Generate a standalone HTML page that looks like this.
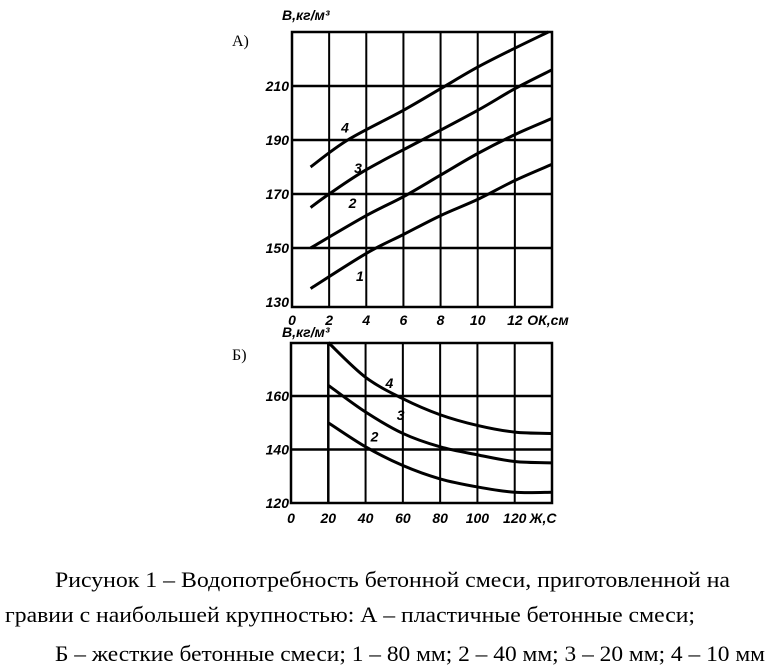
<!DOCTYPE html>
<html><head><meta charset="utf-8"><style>
html,body{margin:0;padding:0;background:#fff;width:772px;height:671px;overflow:hidden}
svg{display:block}
.t{font-family:"Liberation Sans Narrow","Liberation Sans",sans-serif;font-style:italic;font-weight:bold;font-size:14px;fill:#000}
.cap{font-family:"Liberation Serif",serif;font-size:22px;fill:#000}
</style></head><body>
<svg id="s" width="772" height="671" viewBox="0 0 772 671">
<text class="cap" x="55" y="587" textLength="675" lengthAdjust="spacingAndGlyphs">Рисунок 1 – Водопотребность бетонной смеси, приготовленной на</text>
<text class="cap" x="5" y="622" textLength="690" lengthAdjust="spacingAndGlyphs">гравии с наибольшей крупностью: А – пластичные бетонные смеси;</text>
<text class="cap" x="55" y="661" textLength="710" lengthAdjust="spacingAndGlyphs">Б – жесткие бетонные смеси; 1 – 80 мм; 2 – 40 мм; 3 – 20 мм; 4 – 10 мм</text>
</svg>
<script>
// Chart A data
const aXTicks=[0,2,4,6,8,10,12];
const aYTicks=[130,150,170,190,210];
const aX1=[1,4,6,8,10,12,14], aY1=[135,148,155,162,168,175,181];
const aX2=[1,4,6,8,10,12,14], aY2=[150,162,169,177,185,192,198];
const aX3=[1,2,4,7,10,12,14], aY3=[165,170,179,190,201,209,216];
const aX4=[1,3,6,8,10,12,13.8], aY4=[180,190,201,209,217,224,230];
const aLabels=["1","2","3","4"];
// Chart B data
const bXTicks=[0,20,40,60,80,100,120];
const bYTicks=[120,140,160];
const bX=[20,40,60,80,100,120,140];
const bY2=[150,141,134,129,126,124,124];
const bY3=[164,154,146,141,138,135.5,135];
const bY4=[180,167,159,153,149,146.5,146];

const svg=document.getElementById('s');
const NS='http://www.w3.org/2000/svg';
function mk(tag,attrs,txt){const e=document.createElementNS(NS,tag);for(const k in attrs)e.setAttribute(k,attrs[k]);if(txt!==undefined)e.textContent=txt;svg.appendChild(e);return e;}
function smooth(pts){let d='M'+pts[0][0]+','+pts[0][1];for(let i=0;i<pts.length-1;i++){const p0=pts[i-1]||pts[i],p1=pts[i],p2=pts[i+1],p3=pts[i+2]||p2;const c1=[p1[0]+(p2[0]-p0[0])/6,p1[1]+(p2[1]-p0[1])/6],c2=[p2[0]-(p3[0]-p1[0])/6,p2[1]-(p3[1]-p1[1])/6];d+=' C'+c1+' '+c2+' '+p2;}return d;}

const ax=v=>292+v*(260/14), ay=v=>302-(v-130)*(54/20);
function chartA(){
  for(const t of aXTicks.concat([14])){if(t>0){const l=mk('line',{x1:ax(t),x2:ax(t),y1:32,y2:307,stroke:'#000','stroke-width':2});}}
  for(const t of aYTicks){if(t>130){const l=mk('line',{x1:292,x2:552,y1:ay(t),y2:ay(t),stroke:'#000','stroke-width':2.5});}}
  const f=mk('rect',{x:292,y:32,width:260,height:275,fill:'none',stroke:'#000','stroke-width':2.5});
  
  for(const t of aXTicks){const e=mk('text',{class:'t',x:ax(t),y:325,'text-anchor':'middle'},String(t));}
  for(const t of aYTicks){const e=mk('text',{class:'t',x:289,y:ay(t)+5,'text-anchor':'end'},String(t));}
  const xt=mk('text',{class:'t',x:548,y:325,'text-anchor':'middle'},'ОК,см');
  const yt=mk('text',{class:'t',x:282,y:20},'В,кг/м³');
  const p=mk('text',{x:232,y:46,'font-family':'Liberation Serif, serif','font-size':16},'А)');
  const series=[[aX1,aY1],[aX2,aY2],[aX3,aY3],[aX4,aY4]];
  const labPos=[[4.2,137],[3.8,164],[4.1,177],[3.4,192]];
  series.forEach((s,i)=>{const pts=s[0].map((x,j)=>[ax(x),ay(s[1][j])]);const c=mk('path',{d:smooth(pts),fill:'none',stroke:'#000','stroke-width':3});
    const lb=mk('text',{class:'t',x:ax(labPos[i][0])-14,y:ay(labPos[i][1])-2,'font-size':16},aLabels[i]);});
}
const bx=v=>291+v*(261/140), by=v=>503-(v-120)*(53.5/20);
function chartB(){
  for(const t of bXTicks.concat([140])){if(t>0){const l=mk('line',{x1:bx(t),x2:bx(t),y1:343,y2:503,stroke:'#000','stroke-width':t===20?2.5:2});}}
  for(const t of bYTicks){if(t>120){const l=mk('line',{x1:291,x2:552,y1:by(t),y2:by(t),stroke:'#000','stroke-width':2.5});}}
  const f=mk('rect',{x:291,y:343,width:261,height:160,fill:'none',stroke:'#000','stroke-width':2.5});
  
  for(const t of bXTicks){const e=mk('text',{class:'t',x:bx(t),y:523,'text-anchor':'middle'},String(t));}
  for(const t of bYTicks){const e=mk('text',{class:'t',x:289,y:by(t)+5,'text-anchor':'end'},String(t));}
  const xt=mk('text',{class:'t',x:543,y:523,'text-anchor':'middle'},'Ж,С');
  const yt=mk('text',{class:'t',x:282,y:337},'В,кг/м³');
  const p=mk('text',{x:232,y:360,'font-family':'Liberation Serif, serif','font-size':16},'Б)');
  const series=[bY2,bY3,bY4];const names=['2','3','4'];const labPos=[[47,143],[61,151],[55,163]];
  series.forEach((s,i)=>{const pts=bX.map((x,j)=>[bx(x),by(s[j])]);const c=mk('path',{d:smooth(pts),fill:'none',stroke:'#000','stroke-width':3});
    const lb=mk('text',{class:'t',x:bx(labPos[i][0])-8,y:by(labPos[i][1]),'font-size':16},names[i]);});
}
chartA();chartB();
</script>
</body></html>
